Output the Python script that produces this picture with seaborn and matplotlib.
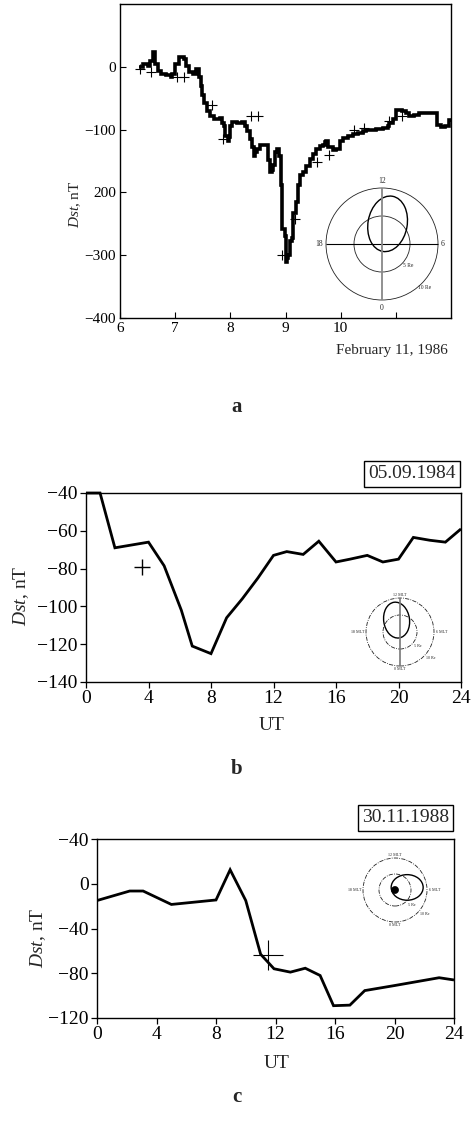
import numpy as np
import pandas as pd
import seaborn as sns
import matplotlib
matplotlib.use("Agg")
import matplotlib.pyplot as plt
from matplotlib.patches import Circle, Ellipse

# ---------------- data ----------------
# Panel a: Dst, February 1986 (day of month)
a_day = [6.35, 6.41, 6.50, 6.55, 6.60, 6.63, 6.68, 6.74, 6.83, 6.92, 6.95, 7.00, 7.07, 7.16,
         7.19, 7.25, 7.33, 7.37, 7.41, 7.44, 7.46, 7.49, 7.52, 7.57, 7.64, 7.70, 7.82, 7.85,
         7.88, 7.91, 7.95, 7.97, 8.00, 8.03, 8.12, 8.21, 8.27, 8.31, 8.36, 8.39, 8.42, 8.45,
         8.48, 8.54, 8.66, 8.69, 8.72, 8.75, 8.78, 8.81, 8.85, 8.89, 8.91, 8.94, 8.99, 9.01,
         9.03, 9.05, 9.08, 9.11, 9.14, 9.19, 9.23, 9.26, 9.32, 9.38, 9.44, 9.50, 9.56, 9.62,
         9.68, 9.71, 9.74, 9.77, 9.86, 9.92, 9.98, 10.04, 10.13, 10.22, 10.31, 10.40, 10.46,
         10.64, 10.76, 10.85, 10.88, 10.94, 11.00, 11.12, 11.18, 11.24, 11.33, 11.42, 11.54,
         11.66, 11.72, 11.75, 11.81, 11.90, 11.96, 12.00]
a_dst = [0, 4, 2, 10, 24, 4, -7, -11, -13, -16, -12, 4, 15, 12,
         2, -9, -11, -4, -4, -17, -30, -45, -58, -71, -79, -83, -82, -90,
         -95, -110, -118, -112, -95, -88, -90, -88, -95, -103, -115, -128, -142, -135,
         -131, -125, -125, -149, -168, -165, -157, -136, -131, -142, -189, -259, -270, -311,
         -305, -300, -277, -272, -233, -215, -189, -173, -168, -158, -147, -139, -131, -126,
         -125, -120, -118, -127, -132, -131, -118, -113, -110, -107, -105, -103, -100,
         -99, -97, -95, -90, -83, -69, -70, -73, -79, -77, -74, -74,
         -73, -74, -92, -96, -95, -84, -84]
a_cross_day = [6.37, 6.56, 7.04, 7.16, 7.67, 7.86, 8.37, 8.50, 8.93, 9.18, 9.57, 9.79,
               10.24, 10.42, 10.88, 11.12]
a_cross_dst = [-4, -9, -17, -17, -61, -115, -79, -79, -300, -243, -151, -141,
               -100, -97, -87, -78]
a_yticks = [-400, -300, -200, -100, 0]
a_yticklabels = ["\u2212400", "\u2212300", "200", "\u2212100", "0"]
a_xticks = [6, 7, 8, 9, 10, 11]
a_xticklabels = ["6", "7", "8", "9", "10", ""]

# Panel b: 05.09.1984
b_ut = [0, 0.9, 1.85, 4, 5, 6.1, 6.8, 8, 9, 10, 11, 12, 12.85, 13.9, 14.9, 16, 16.9,
        18, 19, 20, 20.95, 22, 23, 24]
b_dst = [-40, -40, -69, -66, -78.5, -102, -121, -125, -106, -96, -85, -73, -71, -72.5,
         -65.5, -76.5, -75, -73, -76.5, -75, -63.5, -65, -66, -59]
b_cross_ut = [3.56]
b_cross_dst = [-79]
b_yticks = [-140, -120, -100, -80, -60, -40]
b_yticklabels = ["\u2212140", "\u2212120", "\u2212100", "\u221280", "\u221260", "\u221240"]

# Panel c: 30.11.1988
c_ut = [0, 2.2, 3.1, 5, 8, 8.95, 10, 11, 11.9, 13, 14, 15, 15.9, 17, 18, 20, 23, 24]
c_dst = [-15, -6.5, -6.5, -18.5, -14.5, 12.5, -15, -63, -76, -79, -75.5, -82, -109,
         -108.5, -95.5, -91, -84, -86]
c_cross_ut = [11.5]
c_cross_dst = [-64]
c_yticks = [-120, -80, -40, 0, 40]
c_yticklabels = ["\u2212120", "\u221280", "\u221240", "0", "\u221240"]

ut_ticks = [0, 4, 8, 12, 16, 20, 24]

# orbit schematics (Earth radii): centre x, centre y, width, height, tilt
orbit_a = [1.0, 3.6, 7.0, 10.0, -10]
orbit_b = [-1.0, 3.5, 7.6, 10.6, 8]
orbit_c = [3.8, 0.8, 10.0, 8.0, 0]

# ---------------- style ----------------
sns.set_theme(style="ticks")
plt.rcParams["font.family"] = ["Liberation Serif", "DejaVu Serif"]
plt.rcParams["mathtext.fontset"] = "custom"
plt.rcParams["mathtext.it"] = "Liberation Serif:italic"
plt.rcParams["mathtext.rm"] = "Liberation Serif"
plt.rcParams["axes.linewidth"] = 1.0
plt.rcParams["lines.solid_capstyle"] = "butt"
plt.rcParams["lines.solid_joinstyle"] = "miter"

W, H = 474, 1122
fig = plt.figure(figsize=(W / 100, H / 100), dpi=100)
fig.patch.set_facecolor("white")


def px_axes(l, t, r, b):
    return fig.add_axes([l / W, 1 - b / H, (r - l) / W, (b - t) / H])


def ftext(x, y, s, **kw):
    return fig.text(x / W, 1 - y / H, s, **kw)


def style_axes(ax):
    ax.set_facecolor("white")
    for sp in ax.spines.values():
        sp.set_visible(True)
        sp.set_color("black")
        sp.set_linewidth(1.0)
    ax.set_xlabel("")
    ax.set_ylabel("")


def orbit_inset(cx, cy, half_px, px_per_re, orbit, dashed):
    ax = px_axes(cx - half_px, cy - half_px, cx + half_px, cy + half_px)
    lim = half_px / px_per_re
    ax.set_xlim(-lim, lim)
    ax.set_ylim(-lim, lim)
    ax.axis("off")
    ax.patch.set_alpha(0)
    ls = (0, (5, 1.5, 1, 1.5)) if dashed else "-"
    lw = 0.6
    ax.add_patch(Circle((0, 0), 10, fill=False, ec="#222222", lw=lw, ls=ls))
    ax.add_patch(Circle((0, 0), 5, fill=False, ec="#222222", lw=lw, ls=ls))
    ox, oy, ow, oh, oa = orbit
    ax.add_patch(Ellipse((ox, oy), ow, oh, angle=oa, fill=False, ec="black", lw=1.0))
    return ax


# ---------------- panel a ----------------
axa = px_axes(120, 4, 451, 318)
sns.lineplot(x=a_day, y=a_dst, ax=axa, color="black", lw=2.6, drawstyle="steps-post",
             estimator=None, sort=False, zorder=3, solid_joinstyle="miter",
             solid_capstyle="butt")
sns.scatterplot(x=a_cross_day, y=a_cross_dst, ax=axa, marker="+", s=45, color="black",
                linewidth=0.8, zorder=4)
style_axes(axa)
axa.set_xlim(6, 12)
axa.set_ylim(-400, 100)
axa.set_xticks(a_xticks)
axa.set_xticklabels(a_xticklabels)
axa.set_yticks(a_yticks)
axa.set_yticklabels(a_yticklabels)
axa.tick_params(direction="in", length=4, width=0.8, labelsize=11, pad=3, colors="black")
ftext(75, 204, r"$\mathit{Dst}$, nT", rotation=90, ha="center", va="center", fontsize=11)
ftext(448, 350, "February 11, 1986", ha="right", va="center", fontsize=11)
ftext(237, 407, "a", ha="center", va="center", fontsize=15, fontweight="bold")

ia = orbit_inset(382, 244, 70, 5.6, orbit_a, False)
ia.plot([-10, 10], [0, 0], color="black", lw=0.8)
ia.plot([0, 0], [-10, 10], color="#888888", lw=1.3)
ia.text(0, 10.6, "12", ha="center", va="bottom", fontsize=5.5)
ia.text(-10.5, 0, "18", ha="right", va="center", fontsize=5.5)
ia.text(10.5, 0, "6", ha="left", va="center", fontsize=5.5)
ia.text(0, -10.8, "0", ha="center", va="top", fontsize=5.5)
ia.text(3.8, -3.8, "5 Re", ha="left", va="center", fontsize=4)
ia.text(6.4, -7.7, "10 Re", ha="left", va="center", fontsize=4)

# ---------------- panel b ----------------
axb = px_axes(86, 493, 461, 682)
sns.lineplot(x=b_ut, y=b_dst, ax=axb, color="black", lw=2.0, estimator=None, sort=False,
             zorder=3, clip_on=False)
sns.scatterplot(x=b_cross_ut, y=b_cross_dst, ax=axb, marker="+", s=130, color="black",
                linewidth=1.0, zorder=4)
style_axes(axb)
axb.set_xlim(0, 24)
axb.set_ylim(-140, -40)
axb.set_xticks(ut_ticks)
axb.set_xticklabels([str(t) for t in ut_ticks])
axb.set_yticks(b_yticks)
axb.set_yticklabels(b_yticklabels)
axb.tick_params(direction="out", length=4, width=0.9, labelsize=14, pad=2, colors="black")
ftext(21, 596, r"$\mathit{Dst}$, nT", rotation=90, ha="center", va="center", fontsize=14)
ftext(272, 725, "UT", ha="center", va="center", fontsize=14)
ftext(456, 474, "05.09.1984", ha="right", va="center", fontsize=14,
      bbox=dict(boxstyle="square,pad=0.22", fc="white", ec="black", lw=1.0))
ftext(237, 769, "b", ha="center", va="center", fontsize=15, fontweight="bold")

ib = orbit_inset(400, 632, 45, 3.4, orbit_b, True)
ib.plot([0, 0], [-10, 10], color="#777777", lw=1.2)
ib.text(0, 10.4, "12 MLT", ha="center", va="bottom", fontsize=3)
ib.text(-10.6, 0, "18 MLT", ha="right", va="center", fontsize=3)
ib.text(10.6, 0, "6 MLT", ha="left", va="center", fontsize=3)
ib.text(0, -10.4, "0 MLT", ha="center", va="top", fontsize=3)
ib.text(4.0, -4.2, "5 Re", ha="left", va="center", fontsize=3)
ib.text(7.6, -7.6, "10 Re", ha="left", va="center", fontsize=3)

# ---------------- panel c ----------------
axc = px_axes(97, 839, 454, 1018)
sns.lineplot(x=c_ut, y=c_dst, ax=axc, color="black", lw=2.0, estimator=None, sort=False,
             zorder=3)
sns.scatterplot(x=c_cross_ut, y=c_cross_dst, ax=axc, marker="+", s=480, color="black",
                linewidth=0.8, zorder=4)
style_axes(axc)
axc.set_xlim(0, 24)
axc.set_ylim(-120, 40)
axc.set_xticks(ut_ticks)
axc.set_xticklabels([str(t) for t in ut_ticks])
axc.set_yticks(c_yticks)
axc.set_yticklabels(c_yticklabels)
axc.tick_params(direction="out", length=4, width=0.9, labelsize=14, pad=2, colors="black")
ftext(38, 938, r"$\mathit{Dst}$, nT", rotation=90, ha="center", va="center", fontsize=14)
ftext(277, 1063, "UT", ha="center", va="center", fontsize=14)
ftext(449, 818, "30.11.1988", ha="right", va="center", fontsize=14,
      bbox=dict(boxstyle="square,pad=0.22", fc="white", ec="black", lw=1.0))
ftext(237, 1097, "c", ha="center", va="center", fontsize=15, fontweight="bold")

ic = orbit_inset(395, 890, 45, 3.2, orbit_c, True)
ic.add_patch(Circle((0, 0), 1.1, fc="black", ec="black", lw=0.5))
ic.text(0, 10.4, "12 MLT", ha="center", va="bottom", fontsize=3)
ic.text(-10.6, 0, "18 MLT", ha="right", va="center", fontsize=3)
ic.text(10.6, 0, "6 MLT", ha="left", va="center", fontsize=3)
ic.text(0, -10.4, "0 MLT", ha="center", va="top", fontsize=3)
ic.text(4.2, -4.8, "5 Re", ha="left", va="center", fontsize=3)
ic.text(7.8, -7.6, "10 Re", ha="left", va="center", fontsize=3)

fig.savefig("out.png", dpi=100, facecolor="white")
